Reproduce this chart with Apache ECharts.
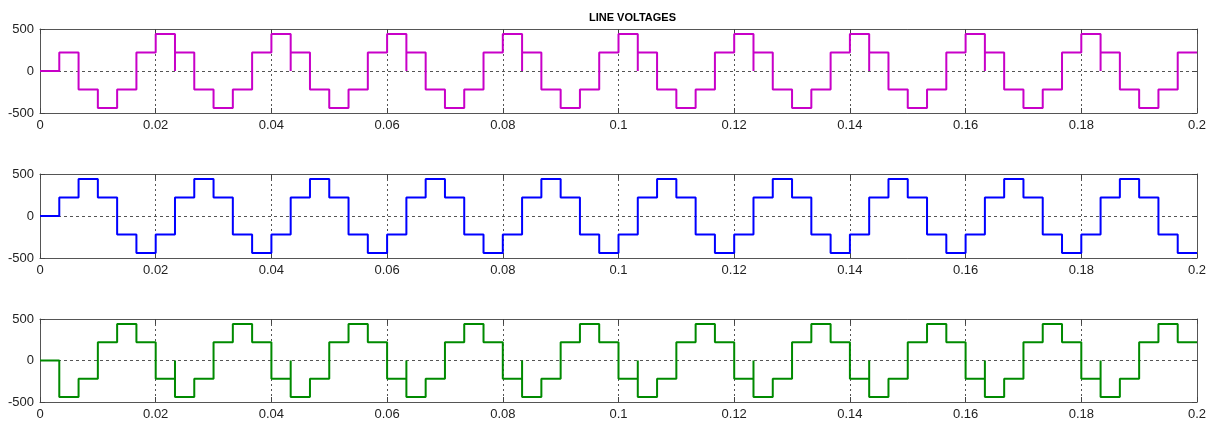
<!DOCTYPE html>
<html lang="en">
<head>
  <meta charset="UTF-8">
  <title>LINE VOLTAGES</title>
  <script src="https://cdn.jsdelivr.net/npm/echarts@6/dist/echarts.min.js"></script>
  <style>
    html, body { margin: 0; padding: 0; background: #fff; }
  </style>
</head>
<body>
  <div id="main" style="width:1216px;height:421px"></div>
  <script>
    // step width of the stepped waveform (s)
    var stepWidth = 1 / 300;
    var xTickLabels = ['0', '0.02', '0.04', '0.06', '0.08', '0.1', '0.12', '0.14', '0.16', '0.18', '0.2'];
    var yTickLabels = ['-500', '0', '500'];

    // level of each step (V)
    var vab = [0, 220, -220, -440, -220, 220,
      440, 220, -220, -440, -220, 220,
      440, 220, -220, -440, -220, 220,
      440, 220, -220, -440, -220, 220,
      440, 220, -220, -440, -220, 220,
      440, 220, -220, -440, -220, 220,
      440, 220, -220, -440, -220, 220,
      440, 220, -220, -440, -220, 220,
      440, 220, -220, -440, -220, 220,
      440, 220, -220, -440, -220, 220];
    var vbc = [0, 220, 440, 220, -220, -440,
      -220, 220, 440, 220, -220, -440,
      -220, 220, 440, 220, -220, -440,
      -220, 220, 440, 220, -220, -440,
      -220, 220, 440, 220, -220, -440,
      -220, 220, 440, 220, -220, -440,
      -220, 220, 440, 220, -220, -440,
      -220, 220, 440, 220, -220, -440,
      -220, 220, 440, 220, -220, -440,
      -220, 220, 440, 220, -220, -440];
    var vca = [0, -440, -220, 220, 440, 220,
      -220, -440, -220, 220, 440, 220,
      -220, -440, -220, 220, 440, 220,
      -220, -440, -220, 220, 440, 220,
      -220, -440, -220, 220, 440, 220,
      -220, -440, -220, 220, 440, 220,
      -220, -440, -220, 220, 440, 220,
      -220, -440, -220, 220, 440, 220,
      -220, -440, -220, 220, 440, 220,
      -220, -440, -220, 220, 440, 220];
    // steps where the trace briefly drops to 0 before the new level
    var vabSpikes = [7, 13, 19, 25, 31, 37, 43, 49, 55];
    var vbcSpikes = [];
    var vcaSpikes = [7, 13, 19, 25, 31, 37, 43, 49, 55];

    function stepPoints(levels, spikes) {
      var pts = [];
      for (var i = 0; i < levels.length; i++) {
        var t0 = i * stepWidth, t1 = (i + 1) * stepWidth;
        if (spikes.indexOf(i) >= 0) pts.push([t0, 0]);
        pts.push([t0, levels[i]]);
        pts.push([t1, levels[i]]);
      }
      return pts;
    }

    var font = 'Liberation Sans, Arial, sans-serif';
    var grids = [
      { left: 40, right: 19, top: 29, height: 84 },
      { left: 40, right: 19, top: 174, height: 84 },
      { left: 40, right: 19, top: 319, height: 83 }
    ];
    var tickStyle = { inside: true, length: 5, lineStyle: { color: '#444', width: 1 } };
    // onZero off so the box edges stay on the plot border
    var lineCol = { onZero: false, lineStyle: { color: '#555', width: 1 } };
    var gridLine = { show: true, lineStyle: { color: '#555', width: 1, type: [2, 3] } };

    var xAxes = [], yAxes = [];
    for (var g = 0; g < 3; g++) {
      xAxes.push({
        gridIndex: g, type: 'value', min: 0, max: 0.2, interval: 0.02, position: 'bottom',
        axisLine: lineCol, axisTick: tickStyle, splitLine: gridLine,
        axisLabel: {
          color: '#222', fontSize: 13, fontFamily: font, margin: 6,
          formatter: function (v, idx) { return xTickLabels[idx]; }
        }
      });
      xAxes.push({
        gridIndex: g, type: 'value', min: 0, max: 0.2, interval: 0.02, position: 'top',
        axisLine: lineCol, axisTick: tickStyle, splitLine: { show: false }, axisLabel: { show: false }
      });
      yAxes.push({
        gridIndex: g, type: 'value', min: -500, max: 500, interval: 500, position: 'left',
        axisLine: lineCol, axisTick: tickStyle,
        splitLine: { show: true, lineStyle: { color: '#555', width: 1, type: [3, 3] } },
        axisLabel: {
          color: '#222', fontSize: 13, fontFamily: font, margin: 6,
          formatter: function (v, idx) { return yTickLabels[idx]; }
        }
      });
      yAxes.push({
        gridIndex: g, type: 'value', min: -500, max: 500, interval: 500, position: 'right',
        axisLine: lineCol, axisTick: tickStyle, splitLine: { show: false }, axisLabel: { show: false }
      });
    }

    var traces = [
      { data: vab, spikes: vabSpikes, color: '#c800c8' },
      { data: vbc, spikes: vbcSpikes, color: '#0000ff' },
      { data: vca, spikes: vcaSpikes, color: '#008a00' }
    ];

    var myChart = echarts.init(document.getElementById('main'));
    var option = {
      animation: false,
      backgroundColor: '#fff',
      title: {
        text: 'LINE VOLTAGES', left: 584, top: 7,
        textStyle: { fontSize: 11, fontWeight: 'bold', color: '#000', fontFamily: font }
      },
      grid: grids,
      xAxis: xAxes,
      yAxis: yAxes,
      series: traces.map(function (tr, i) {
        return {
          type: 'line', xAxisIndex: i * 2, yAxisIndex: i * 2,
          data: stepPoints(tr.data, tr.spikes),
          showSymbol: false, symbol: 'none',
          lineStyle: { color: tr.color, width: 2 },
          z: 3
        };
      })
    };
    myChart.setOption(option);
  </script>
</body>
</html>
